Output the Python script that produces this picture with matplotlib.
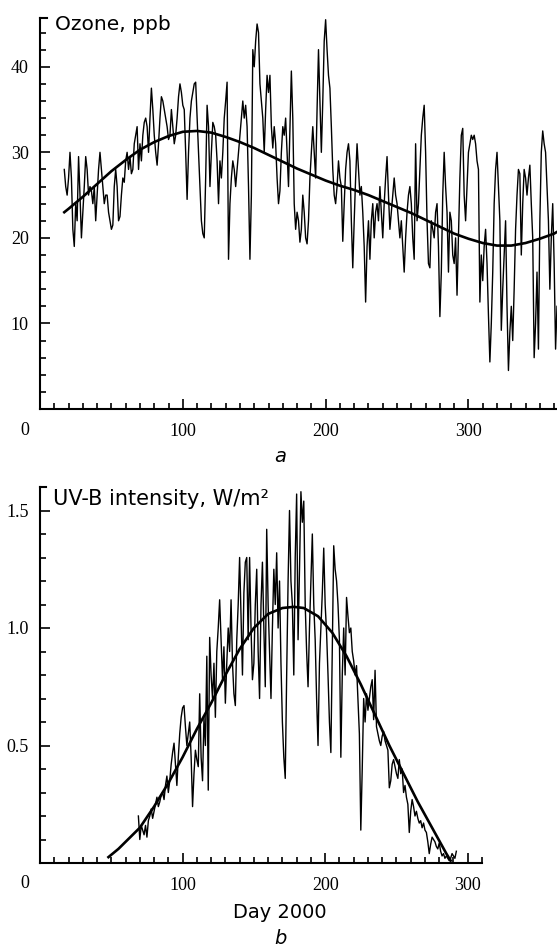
import matplotlib
matplotlib.use("Agg")
import matplotlib.pyplot as plt
import numpy as np
from matplotlib.ticker import MultipleLocator, FixedLocator

# ozone, daily values (ppb), first day 17
ozone_start = 17
ozone = [
    28, 26, 25, 27,
    30, 27, 21, 19, 24, 22, 29.5, 25, 20, 23,
    26, 29.5, 28, 25, 26, 25.5, 24, 26, 22, 25,
    28, 30, 28, 26, 24, 25, 25, 23, 22, 21,
    21.5, 26, 28, 26, 22, 22.5, 25, 27, 26.5, 29,
    30, 28, 29.5, 27.5, 28, 31, 32, 33, 28, 31,
    29, 32, 33.5, 34, 33, 30, 34, 37.5, 35, 32,
    30, 28.5, 31, 34, 36.5, 36, 35, 34, 33, 31.5,
    32, 35, 33, 31, 32, 34, 36.5, 38, 37, 35.5,
    35, 30, 24.5, 30, 34, 36, 37, 38, 38.2, 34,
    30, 26, 22, 20.5, 20, 27, 35.5, 33, 26, 30,
    33.5, 33, 32, 29, 24, 29, 27, 30, 34, 36,
    38.2, 17.5, 24, 27, 29, 28, 26, 28, 30, 32,
    34, 36, 34, 35.5, 33, 26, 17.5, 25, 42, 40,
    43, 45, 44, 38, 36, 34, 30, 35, 39, 37,
    39, 33, 30.5, 33, 31, 27, 24, 25.5, 30, 33,
    32, 34, 30, 26, 33, 39.5, 34, 24, 21, 23,
    22, 19.5, 21, 25, 23, 20, 19.3, 22, 27, 30,
    33, 30, 27, 35, 42, 36, 30, 36, 43, 45.5,
    42, 39, 37.5, 33, 28, 25, 24, 26, 29, 27,
    26, 19.6, 24, 28, 30, 31, 29, 22, 16.5, 22,
    27, 31, 28, 25, 26, 23, 19, 12.5, 19, 22,
    17.5, 22, 24, 20, 23, 24, 22, 26, 23, 20,
    24, 27, 29.5, 25, 21, 23, 25, 27, 25, 24,
    22, 20, 22, 19, 16, 20, 23, 25, 26, 24,
    20, 17.5, 31, 22, 24, 28, 32, 34, 35.5, 30,
    22, 17, 16.5, 22, 21, 20, 23, 24, 19, 10.8,
    16, 25, 30, 26, 23, 16, 23, 22, 18, 17,
    20, 13.3, 20, 27, 32, 32.8, 25, 22, 26, 30,
    31, 32, 31.5, 32, 31, 29, 28, 12.5, 18, 15,
    19, 21, 17, 11, 5.5, 10, 16, 24, 28, 30,
    26, 22, 9.2, 14, 18, 22, 12, 4.5, 9, 12,
    8, 14, 21, 25, 28, 27.5, 18, 24, 28, 27,
    25, 27, 28.5, 24, 20, 6, 10, 16, 7, 22,
    30, 32.5, 31, 30, 26, 22, 14, 20, 24, 17,
    7, 12,
]
ozone_fit_days = [17, 20, 30, 40, 50, 60, 70, 80, 90, 100, 110, 120, 130, 140, 150,
                  160, 170, 180, 190, 200, 210, 220, 230, 240, 250, 260, 270, 280,
                  290, 300, 310, 320, 330, 340, 350, 360, 362]
ozone_fit = [23.0, 23.4, 24.8, 26.3, 27.8, 29.1, 30.3, 31.2, 31.9, 32.4, 32.5, 32.3,
             31.8, 31.2, 30.5, 29.7, 28.9, 28.1, 27.4, 26.7, 26.1, 25.6, 25.0, 24.3,
             23.6, 22.9, 22.1, 21.3, 20.5, 19.9, 19.4, 19.1, 19.1, 19.4, 19.9, 20.5,
             20.7]

# UV-B intensity, daily values (W/m2), first day 69
uvb_start = 69
uvb = [
    0.20, 0.10, 0.16, 0.14, 0.12, 0.16, 0.11, 0.18, 0.20, 0.23, 0.19,
    0.22, 0.25, 0.28, 0.24, 0.26, 0.29, 0.30, 0.27, 0.33, 0.37, 0.30,
    0.35, 0.42, 0.47, 0.51, 0.42, 0.33, 0.45, 0.55, 0.62, 0.66,
    0.67, 0.58, 0.50, 0.55, 0.60, 0.45, 0.24, 0.38, 0.48, 0.44,
    0.41, 0.72, 0.45, 0.35, 0.62, 0.50, 0.88, 0.31, 0.96, 0.80,
    0.70, 0.85, 0.62, 0.90, 1.00, 1.12, 0.95, 0.78, 0.92, 0.68,
    0.85, 1.00, 0.90, 1.12, 0.85, 0.72, 0.67, 0.95, 1.10, 1.30,
    1.05, 0.80, 1.15, 1.28, 1.30, 0.95, 1.30, 1.00, 0.78, 0.85,
    1.10, 1.25, 0.90, 0.70, 1.10, 1.28, 1.00, 0.75, 1.42, 1.10,
    0.90, 0.70, 1.00, 1.25, 1.10, 1.32, 1.00, 1.20, 0.85, 0.60,
    0.45, 0.36, 0.80, 1.20, 1.50, 1.20, 1.10, 0.80, 1.30, 1.57,
    0.95, 1.25, 1.58, 1.45, 1.54, 1.10, 0.90, 0.75, 1.00, 1.20,
    1.40, 1.10, 0.95, 0.70, 0.50, 0.85, 1.00, 1.15, 1.34, 1.10,
    0.98, 0.80, 0.60, 0.47, 0.90, 1.35, 1.25, 1.20, 1.10, 0.95,
    0.45, 0.80, 1.00, 0.80, 1.13, 1.05, 0.98, 1.00, 0.90, 0.86,
    0.80, 0.84, 0.70, 0.55, 0.14, 0.40, 0.70, 0.60, 0.72, 0.65,
    0.70, 0.75, 0.78, 0.61, 0.82, 0.58, 0.55, 0.52, 0.50, 0.54,
    0.56, 0.52, 0.50, 0.48, 0.32, 0.35, 0.42, 0.44, 0.41, 0.38,
    0.36, 0.44, 0.38, 0.40, 0.30, 0.33, 0.28, 0.25, 0.13, 0.22,
    0.27, 0.24, 0.20, 0.22, 0.19, 0.17, 0.18, 0.15, 0.17, 0.14,
    0.13, 0.09, 0.04, 0.08, 0.11, 0.10, 0.09, 0.07, 0.06, 0.085,
    0.05, 0.03, 0.04, 0.02, 0.03, 0.02, 0.01, 0.02, 0.04, 0.03,
    0.02, 0.05,
]
uvb_fit_days = [48, 55, 60, 70, 80, 90, 100, 110, 120, 130, 140, 150, 160, 170, 178,
                185, 195, 205, 215, 225, 235, 245, 255, 265, 275, 285, 288]
uvb_fit = [0.025, 0.06, 0.09, 0.15, 0.24, 0.34, 0.45, 0.57, 0.68, 0.80, 0.91, 1.00,
           1.06, 1.085, 1.09, 1.085, 1.05, 0.98, 0.88, 0.76, 0.63, 0.50, 0.38, 0.26,
           0.15, 0.04, 0.01]

serif = "Liberation Serif"
sans = "DejaVu Sans"


def style_axes(ax, ymajor, yminor, ylabels):
    for side in ("top", "right"):
        ax.spines[side].set_visible(False)
    for side in ("left", "bottom"):
        ax.spines[side].set_linewidth(1.5)
    ax.xaxis.set_major_locator(FixedLocator([100, 200, 300]))
    ax.xaxis.set_minor_locator(MultipleLocator(10))
    ax.yaxis.set_major_locator(FixedLocator(ymajor))
    ax.yaxis.set_minor_locator(MultipleLocator(yminor))
    ax.set_yticklabels(ylabels)
    ax.tick_params(which="both", direction="in", width=1.2, labelsize=13)
    ax.tick_params(which="major", length=7)
    ax.tick_params(which="minor", length=4)
    ax.tick_params(axis="x", pad=10)
    ax.tick_params(axis="y", pad=8)
    for lab in ax.get_xticklabels() + ax.get_yticklabels():
        lab.set_fontfamily(serif)
    # little stub at the top of the y axis
    ax.plot([0, 0.014], [1, 1], transform=ax.transAxes, color="black", lw=1.5,
            clip_on=False)
    ax.annotate("0", xy=(0, 0), xycoords="axes fraction", xytext=(-15, -21),
                textcoords="offset pixels", ha="center", va="center",
                fontsize=13, fontfamily=serif)


fig = plt.figure(figsize=(5.57, 9.49), dpi=100)
ax1 = fig.add_axes([40 / 557, 1 - 409 / 949, 517 / 557, 391 / 949])
ax2 = fig.add_axes([40 / 557, 1 - 863 / 949, 442 / 557, 376 / 949])

days1 = np.arange(ozone_start, ozone_start + len(ozone))
ax1.plot(days1, ozone, color="black", lw=1.0)
ax1.plot(ozone_fit_days, ozone_fit, color="black", lw=1.9)
ax1.set_xlim(0, 362)
ax1.set_ylim(0, 45.7)
style_axes(ax1, [10, 20, 30, 40], 2, ["10", "20", "30", "40"])
ax1.text(0.029, 0.969, "Ozone, ppb", transform=ax1.transAxes, ha="left",
         va="baseline", fontsize=14.5, fontfamily=sans)

days2 = np.arange(uvb_start, uvb_start + len(uvb))
ax2.plot(days2, uvb, color="black", lw=1.0)
ax2.plot(uvb_fit_days, uvb_fit, color="black", lw=1.9)
ax2.set_xlim(0, 310)
ax2.set_ylim(0, 1.6)
style_axes(ax2, [0.5, 1.0, 1.5], 0.1, ["0.5", "1.0", "1.5"])
ax2.text(0.029, 0.952, "UV-B intensity, W/m²", transform=ax2.transAxes,
         ha="left", va="baseline", fontsize=15, fontfamily=sans)

fig.text(280 / 557, 1 - 912 / 949, "Day 2000", ha="center", va="center",
         fontsize=14, fontfamily=sans)
fig.text(280 / 557, 1 - 456 / 949, "a", ha="center", va="center",
         fontsize=14, fontfamily=sans, style="italic")
fig.text(280 / 557, 1 - 938 / 949, "b", ha="center", va="center",
         fontsize=14, fontfamily=sans, style="italic")

fig.savefig("out.png", dpi=100)
